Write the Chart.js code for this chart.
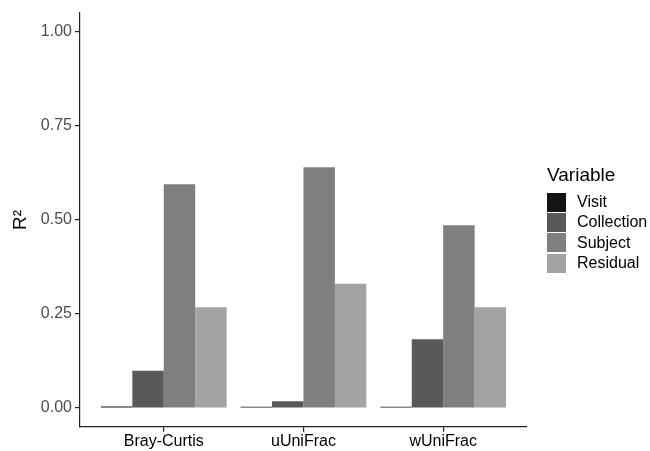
<!DOCTYPE html>
<html lang="en">
<head>
    <meta charset="UTF-8">
    <script src="https://cdn.jsdelivr.net/npm/chart.js"></script>
    <title>R2 by variable</title>
    <style>
        body { margin: 0; background: #fff; font-family: "Liberation Sans", Arial, sans-serif; }
        #wrap { position: relative; width: 650px; height: 451px; }
        #legend { position: absolute; left: 547px; top: 163px; color: #000; }
        #legend .title { font-size: 19px; line-height: 24px; margin-bottom: 5px; }
        #legend .item { height: 20.3px; display: flex; align-items: center; font-size: 16px; }
        #legend .box { width: 19px; height: 19px; margin-right: 11px; }
    </style>
</head>
<body>
    <div id="wrap">
        <canvas id="myChart" width="650" height="451"></canvas>
        <div id="legend"><div class="title">Variable</div></div>
    </div>
    <script>
        const categories = ['Bray-Curtis', 'uUniFrac', 'wUniFrac'];
        const variables = ['Visit', 'Collection', 'Subject', 'Residual'];
        const visit = [0.004, 0.003, 0.003];
        const collection = [0.099, 0.018, 0.183];
        const subject = [0.595, 0.640, 0.486];
        const residual = [0.268, 0.330, 0.268];
        const yTicks = [0, 0.25, 0.5, 0.75, 1.0];
        const colors = ['#141414', '#595959', '#7f7f7f', '#a3a3a3'];

        const series = [visit, collection, subject, residual];
        const datasets = series.map((vals, i) => ({
            label: variables[i],
            data: vals.map((v, j) => ({ x: j + 1, y: v })),
            backgroundColor: colors[i],
            borderWidth: 0,
            barPercentage: 1.0,
            categoryPercentage: 0.9
        }));

        Chart.defaults.font.family = '"Liberation Sans", Arial, sans-serif';

        const chart = new Chart(document.getElementById('myChart'), {
            type: 'bar',
            data: { datasets: datasets },
            options: {
                responsive: false,
                animation: false,
                layout: { padding: { top: 13, right: 123, left: 9, bottom: 0 } },
                plugins: {
                    tooltip: { enabled: false },
                    legend: { display: false }
                },
                scales: {
                    x: {
                        type: 'linear',
                        min: 0.4,
                        max: 3.6,
                        offset: false,
                        afterBuildTicks: s => { s.ticks = [1, 2, 3].map(v => ({ value: v })); },
                        ticks: {
                            color: '#000',
                            font: { size: 16 },
                            padding: 0,
                            callback: v => categories[v - 1]
                        },
                        grid: { offset: false, drawOnChartArea: false, drawTicks: true, tickLength: 5, lineWidth: 1.2, tickColor: '#222' },
                        border: { color: '#222', width: 1.2 }
                    },
                    y: {
                        min: -0.05,
                        max: 1.05,
                        afterBuildTicks: s => { s.ticks = yTicks.map(v => ({ value: v })); },
                        ticks: {
                            color: '#4d4d4d',
                            font: { size: 16 },
                            padding: 3,
                            callback: v => v.toFixed(2)
                        },
                        grid: { drawOnChartArea: false, drawTicks: true, tickLength: 5, lineWidth: 1.2, tickColor: '#222' },
                        border: { color: '#222', width: 1.2 },
                        title: {
                            display: true,
                            text: 'R²',
                            color: '#000',
                            font: { size: 19 },
                            padding: { top: 0, bottom: 6 }
                        }
                    }
                }
            }
        });

        // legend built from the chart's datasets
        const legendEl = document.getElementById('legend');
        chart.data.datasets.forEach(ds => {
            const item = document.createElement('div');
            item.className = 'item';
            item.innerHTML = '<span class="box" style="background:' + ds.backgroundColor + '"></span>' + ds.label;
            legendEl.appendChild(item);
        });
    </script>
</body>
</html>
